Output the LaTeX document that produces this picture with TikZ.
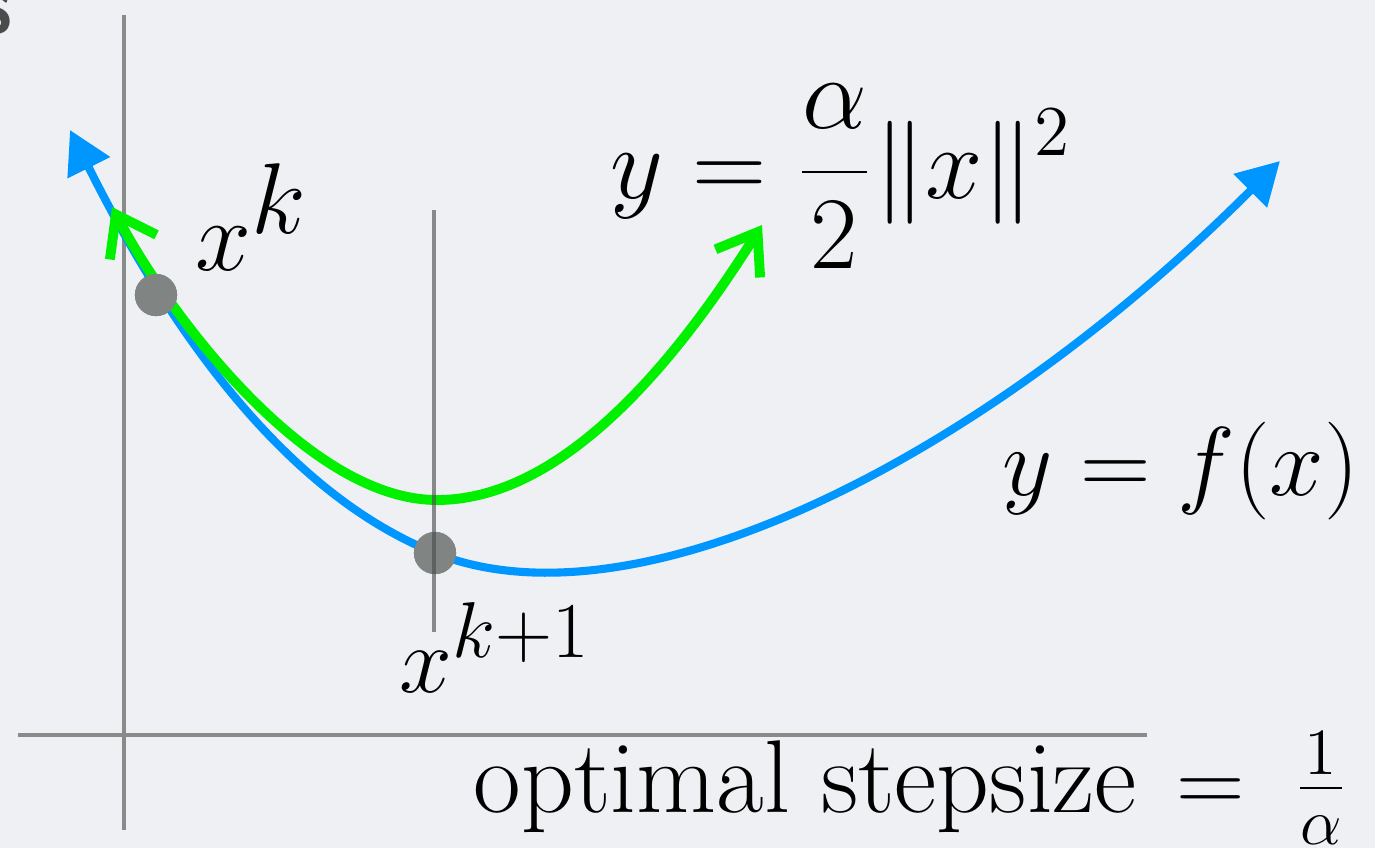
\documentclass[tikz,border=0pt]{standalone}
\usepackage{graphicx}
\usetikzlibrary{arrows.meta}
\definecolor{bgcol}{RGB}{239,240,244}
\definecolor{axisgray}{RGB}{136,139,137}
\definecolor{darkline}{RGB}{76,78,77}
\definecolor{dotgray}{RGB}{128,132,130}
\definecolor{fblue}{RGB}{0,150,255}
\definecolor{qgreen}{RGB}{0,240,0}
\definecolor{titlegray}{RGB}{75,75,75}
\newcommand{\smallbase}{\fontsize{17.28pt}{20pt}\selectfont}
\tikzset{
  axisline/.style={draw=axisgray, line width=1.4pt},
  overline/.style={draw=darkline, draw opacity=0.63, line width=1.4pt},
  bluecurve/.style={draw=fblue, line width=2.3pt, {Triangle[length=12pt,width=13pt]}-{Triangle[length=12pt,width=13pt]}},
  greencurve/.style={draw=qgreen, line width=2.8pt, {Straight Barb[length=10.5pt,width=15pt]}-{Straight Barb[length=10.5pt,width=15pt]}},
  dotstyle/.style={circle, fill=dotgray, minimum size=12pt, inner sep=0pt},
  lbl/.style={inner sep=0pt, anchor=base west, font=\fontsize{24.88pt}{30pt}\selectfont},
}
\begin{document}
\begin{tikzpicture}[x=0.01cm, y=-0.01cm]
\useasboundingbox (0,0) rectangle (1375,848);
\clip (0,0) rectangle (1375,848);
\fill[bgcol] (0,0) rectangle (1375,848);
\node[inner sep=0pt, anchor=base east, text=titlegray, font=\fontsize{24.88pt}{30pt}\selectfont\sffamily\bfseries] (title) at (13,33) {s};
% axes
\coordinate (v1top) at (124,15);
\coordinate (v1bot) at (124,830);
\coordinate (hleft) at (18,735);
\coordinate (hright) at (1147,735);
\coordinate (v2top) at (434,210);
\coordinate (v2bot) at (434,632);
\draw[axisline] (v1top) -- (v1bot);
\draw[axisline] (hleft) -- (hright);
% curves
\coordinate (bstart) at (70,130);
\coordinate (bend) at (1280,161);
\coordinate (gstart) at (112,207);
\coordinate (gmin) at (437,500);
\coordinate (gend) at (762,225);
\node[dotstyle] (xk) at (156,295) {};
\node[dotstyle] (xk1) at (435,553) {};
\draw[bluecurve] (bstart) .. controls (170,330) and (285,493) .. (xk1.center) .. controls (635,633) and (980,461) .. (bend);
\draw[greencurve] (gstart) .. controls (168,313) and (307,500) .. (gmin) .. controls (567,500) and (682,352) .. (gend);
% dots on top
\node[dotstyle] (xkdot) at (xk) {};
\node[dotstyle] (xk1dot) at (xk1) {};
\draw[overline] (v2top) -- (v2bot);
% labels
\node[lbl] (lxk) at (195,270) {\scalebox{1.15}{$x^{\textstyle k}$}};
\node[lbl] (lq) at (610,198) {\scalebox{1.695}{\smallbase$y=\displaystyle\frac{\alpha}{2}\|x\|^2$}};
\node[lbl] (lf) at (1002,495) {\scalebox{1.118}{$y=f(x)$}};
\node[lbl] (lxk1) at (399,692) {\scalebox{1.0852}{$x^{k+1}$}};
\node[lbl] (lopt) at (473,812) {\scalebox{1.183}{optimal stepsize}\hspace{0.4cm}\scalebox{1.5625}{\smallbase$=\kern0.14cm\frac{1}{\alpha}$}};
\end{tikzpicture}
\end{document}
